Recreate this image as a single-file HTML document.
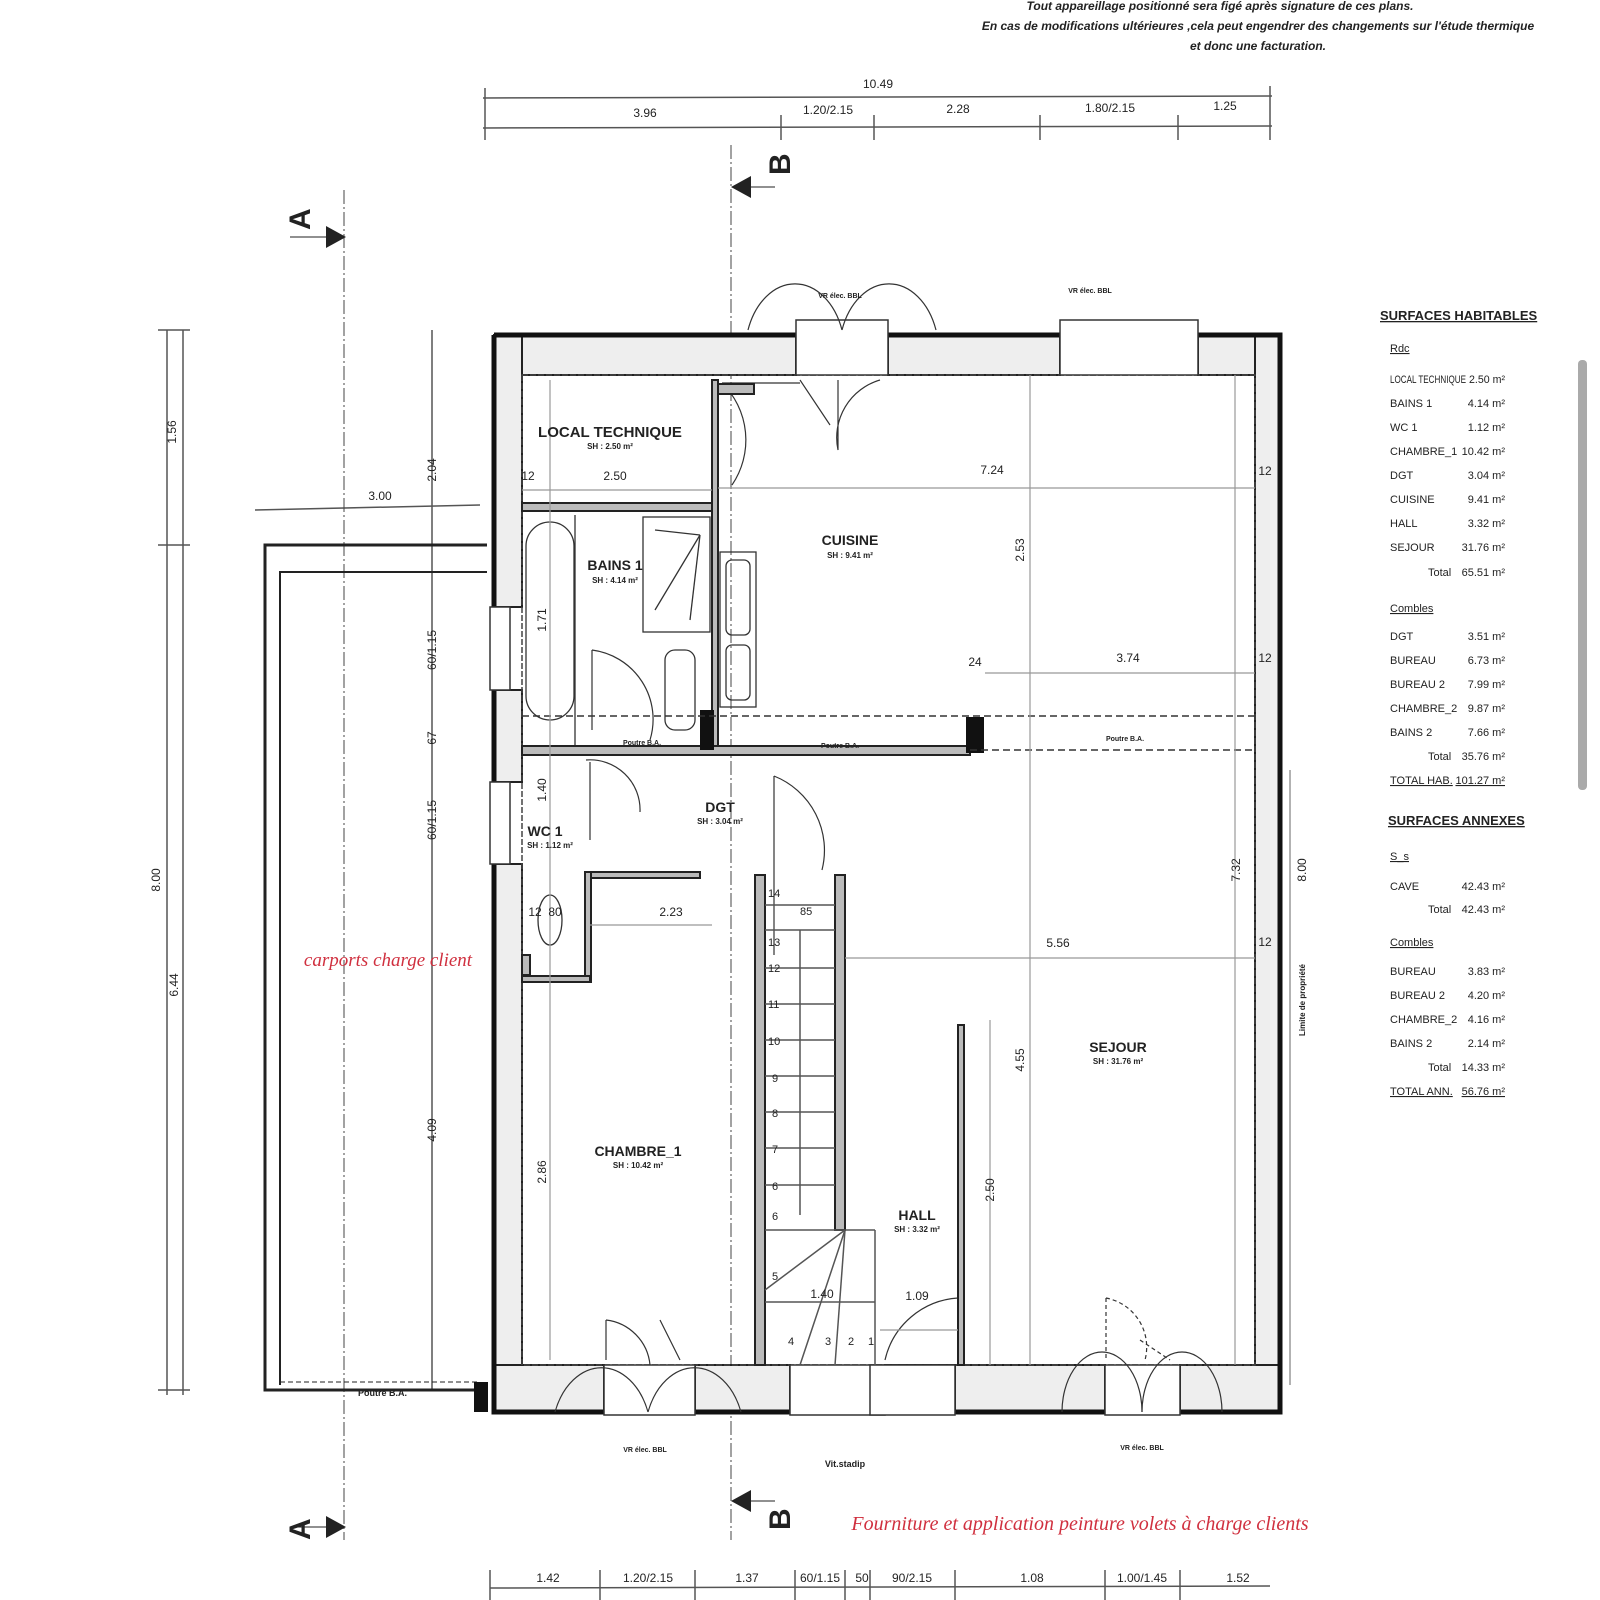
<!DOCTYPE html>
<html><head><meta charset="utf-8"><style>
html,body{margin:0;padding:0;background:#fff}
svg{display:block}
text{font-family:"Liberation Sans",sans-serif;fill:#222}
.d{font-size:12px}
.b{font-weight:bold}
</style></head><body>
<svg width="1600" height="1600" viewBox="0 0 1600 1600" xmlns="http://www.w3.org/2000/svg">
<rect width="1600" height="1600" fill="#fff"/>
<g font-style="italic" font-weight="bold" font-size="12" text-anchor="middle">
<text x="1220" y="10">Tout appareillage positionné sera figé après signature de ces plans.</text>
<text x="1258" y="30">En cas de modifications ultérieures ,cela peut engendrer des changements sur l'étude thermique</text>
<text x="1258" y="50">et donc une facturation.</text>
</g>
<g stroke="#555" stroke-width="1.5" fill="none">
<line x1="483" y1="98" x2="1272" y2="96"/>
<line x1="483" y1="128" x2="1272" y2="126"/>
<line x1="485" y1="88" x2="485" y2="140"/><line x1="1270" y1="86" x2="1270" y2="140"/>
<line x1="781" y1="115" x2="781" y2="140"/><line x1="874" y1="115" x2="874" y2="140"/>
<line x1="1040" y1="115" x2="1040" y2="140"/><line x1="1178" y1="115" x2="1178" y2="140"/>
</g>
<g class="d" text-anchor="middle">
<text x="878" y="88">10.49</text><text x="645" y="117">3.96</text><text x="828" y="114">1.20/2.15</text>
<text x="958" y="113">2.28</text><text x="1110" y="112">1.80/2.15</text><text x="1225" y="110">1.25</text>
</g>
<g stroke="#555" stroke-width="1.5"><line x1="490" y1="1588" x2="1270" y2="1586"/>
<line x1="490" y1="1570" x2="490" y2="1600"/><line x1="600" y1="1570" x2="600" y2="1600"/><line x1="695" y1="1570" x2="695" y2="1600"/><line x1="795" y1="1570" x2="795" y2="1600"/><line x1="845" y1="1570" x2="845" y2="1600"/><line x1="870" y1="1570" x2="870" y2="1600"/><line x1="955" y1="1570" x2="955" y2="1600"/><line x1="1105" y1="1570" x2="1105" y2="1600"/><line x1="1180" y1="1570" x2="1180" y2="1600"/></g>
<g class="d" text-anchor="middle">
<text x="548" y="1582">1.42</text><text x="648" y="1582">1.20/2.15</text><text x="747" y="1582">1.37</text><text x="820" y="1582">60/1.15</text><text x="862" y="1582">50</text><text x="912" y="1582">90/2.15</text><text x="1032" y="1582">1.08</text><text x="1142" y="1582">1.00/1.45</text><text x="1238" y="1582">1.52</text>
</g>
<g stroke="#555" stroke-width="1.5">
<line x1="167" y1="330" x2="167" y2="1395"/><line x1="183" y1="330" x2="183" y2="1395"/>
<line x1="158" y1="330" x2="190" y2="330"/><line x1="158" y1="545" x2="190" y2="545"/><line x1="158" y1="1390" x2="190" y2="1390"/>
<line x1="432" y1="330" x2="432" y2="1390"/>
<line x1="255" y1="510" x2="480" y2="505"/>
</g>
<g class="d" text-anchor="middle">
<text transform="translate(176,432) rotate(-90)">1.56</text>
<text transform="translate(160,880) rotate(-90)">8.00</text>
<text transform="translate(178,985) rotate(-90)">6.44</text>
<text transform="translate(436,470) rotate(-90)">2.04</text>
<text transform="translate(436,650) rotate(-90)">60/1.15</text>
<text transform="translate(436,738) rotate(-90)">67</text>
<text transform="translate(436,820) rotate(-90)">60/1.15</text>
<text transform="translate(436,1130) rotate(-90)">4.09</text>
<text x="380" y="500">3.00</text>
</g>
<g stroke="#444" stroke-width="1" stroke-dasharray="14,3,2,3">
<line x1="344" y1="190" x2="344" y2="1540"/><line x1="731" y1="145" x2="731" y2="1540"/>
</g>
<g font-size="30" font-weight="bold">
<text transform="translate(310,230) rotate(-90)">A</text>
<text transform="translate(310,1540) rotate(-90)">A</text>
<text transform="translate(790,175) rotate(-90)">B</text>
<text transform="translate(790,1530) rotate(-90)">B</text>
</g>
<g fill="#222">
<polygon points="346,237 326,226 326,248"/><line x1="290" y1="237" x2="326" y2="237" stroke="#222"/>
<polygon points="346,1527 326,1516 326,1538"/><line x1="290" y1="1527" x2="326" y2="1527" stroke="#222"/>
<polygon points="731,187 751,176 751,198"/><line x1="751" y1="187" x2="775" y2="187" stroke="#222"/>
<polygon points="731,1501 751,1490 751,1512"/><line x1="751" y1="1501" x2="775" y2="1501" stroke="#222"/>
</g>
<g fill="none" stroke="#222">
<path d="M487 545 H265 V1390 H487" stroke-width="3"/>
<path d="M487 572 H280 V1385" stroke-width="2"/>
<line x1="280" y1="1382" x2="480" y2="1382" stroke-dasharray="5,3"/>
</g>
<rect x="474" y="1382" width="14" height="30" fill="#111"/>
<text x="358" y="1396" font-size="9" class="b">Poutre B.A.</text>
<text x="388" y="966" font-size="19" font-style="italic" text-anchor="middle" style="fill:#d0303f;font-family:'Liberation Serif',serif">carports charge client</text>
<g fill="#eee" stroke="#222" stroke-width="2">
<rect x="494" y="335" width="302" height="40"/>
<rect x="888" y="335" width="172" height="40"/>
<rect x="1198" y="335" width="82" height="40"/>
<rect x="1255" y="335" width="25" height="1050"/>
<rect x="494" y="335" width="28" height="272"/>
<rect x="494" y="690" width="28" height="92"/>
<rect x="494" y="864" width="28" height="548"/>
<rect x="494" y="1365" width="110" height="47"/>
<rect x="695" y="1365" width="95" height="47"/>
<rect x="885" y="1365" width="70" height="47"/>
<rect x="955" y="1365" width="150" height="47"/>
<rect x="1180" y="1365" width="100" height="47"/>
</g>
<g stroke="#111" stroke-width="5" fill="none">
<path d="M494 335 H796 M888 335 H1060 M1198 335 H1280 V1412 H1180 M1105 1412 H955 M885 1412 H870 M790 1412 H695 M604 1412 H494 V864 M494 782 V690 M494 607 V335"/>
</g>
<g stroke="#444" stroke-width="1.5" fill="none">
<path d="M522 375 H1255 V1365 H522 Z" stroke-dasharray="6,2"/>
</g>
<g fill="#fff" stroke="#333" stroke-width="1.5">
<rect x="796" y="320" width="92" height="55"/><rect x="1060" y="320" width="138" height="55"/>
<rect x="490" y="607" width="20" height="83"/><rect x="490" y="782" width="20" height="82"/>
<rect x="604" y="1365" width="91" height="50"/><rect x="790" y="1365" width="95" height="50"/>
<rect x="870" y="1365" width="85" height="50"/><rect x="1105" y="1365" width="75" height="50"/>
</g>
<g fill="none" stroke="#333" stroke-width="1.2">
<path d="M842 330 A50 70 0 0 0 748 330"/><path d="M842 330 A50 70 0 0 1 936 330"/>
<path d="M648 1412 A50 70 0 0 0 555 1412"/><path d="M648 1412 A50 70 0 0 1 741 1412"/>
<path d="M1142 1412 A40 60 0 0 0 1062 1412"/><path d="M1142 1412 A40 60 0 0 1 1222 1412"/>
<path d="M722 383 A80 80 0 0 1 732 485"/><line x1="722" y1="383" x2="800" y2="383"/>
<path d="M800 380 L830 425 M838 380 V450 A60 60 0 0 1 880 380"/>
<path d="M606 1320 V1360 M606 1320 A50 50 0 0 1 650 1365 M660 1320 L680 1360"/>
<path d="M1106 1298 V1360 M1106 1298 A50 50 0 0 1 1145 1360 M1140 1340 L1170 1360" stroke-dasharray="4,3"/>
<path d="M958 1298 A80 80 0 0 0 885 1360 M958 1295 V1360"/>
<path d="M774 776 V955 M774 776 A80 80 0 0 1 822 870" />
<path d="M586 760 A50 50 0 0 1 640 812 M590 762 V840"/>
<path d="M592 650 V730 M592 650 A70 70 0 0 1 650 740"/>
</g>
<g fill="#bbb" stroke="#222" stroke-width="2">
<rect x="522" y="503" width="190" height="8"/>
<rect x="712" y="380" width="6" height="372"/>
<rect x="522" y="746" width="448" height="9"/>
<rect x="585" y="872" width="115" height="6"/>
<rect x="585" y="872" width="6" height="110"/>
<rect x="522" y="976" width="68" height="6"/>
<rect x="522" y="955" width="8" height="20"/>
<rect x="755" y="875" width="10" height="490"/>
<rect x="835" y="875" width="10" height="355"/>
<rect x="958" y="1025" width="6" height="340"/>
<rect x="718" y="384" width="36" height="10"/>
</g>
<rect x="966" y="717" width="18" height="36" fill="#111"/>
<rect x="700" y="710" width="14" height="40" fill="#111"/>
<g stroke="#333" stroke-width="1.5" stroke-dasharray="7,4">
<line x1="522" y1="716" x2="1255" y2="716"/><line x1="970" y1="750" x2="1255" y2="750"/>
</g>
<g fill="none" stroke="#333" stroke-width="1.3">
<rect x="526" y="522" width="48" height="198" rx="24"/>
<line x1="575" y1="515" x2="575" y2="745"/>
<rect x="643" y="517" width="67" height="115"/>
<line x1="655" y1="530" x2="700" y2="535"/><line x1="655" y1="610" x2="700" y2="535"/><line x1="690" y1="620" x2="700" y2="535"/>
<rect x="665" y="650" width="30" height="80" rx="10"/>
<rect x="720" y="552" width="36" height="155"/>
<rect x="726" y="560" width="24" height="75" rx="6"/><rect x="726" y="645" width="24" height="55" rx="6"/>
<ellipse cx="550" cy="920" rx="12" ry="25"/>
</g>
<g stroke="#555" stroke-width="1.5">
<line x1="765" y1="905" x2="835" y2="905"/><line x1="765" y1="930" x2="835" y2="930"/>
<line x1="765" y1="968" x2="835" y2="968"/><line x1="765" y1="1004" x2="835" y2="1004"/>
<line x1="765" y1="1040" x2="835" y2="1040"/><line x1="765" y1="1076" x2="835" y2="1076"/>
<line x1="765" y1="1112" x2="835" y2="1112"/><line x1="765" y1="1148" x2="835" y2="1148"/>
<line x1="765" y1="1185" x2="835" y2="1185"/><line x1="765" y1="1230" x2="875" y2="1230"/>
<line x1="765" y1="1302" x2="875" y2="1302"/>
<line x1="845" y1="1230" x2="765" y2="1290"/><line x1="845" y1="1230" x2="800" y2="1365"/>
<line x1="845" y1="1230" x2="835" y2="1365"/><line x1="800" y1="930" x2="800" y2="1215"/>
<line x1="875" y1="1230" x2="875" y2="1365"/>
</g>
<g font-size="11" fill="#333">
<text x="768" y="897">14</text><text x="768" y="946">13</text><text x="768" y="972">12</text><text x="768" y="1008">11</text>
<text x="768" y="1045">10</text><text x="772" y="1082">9</text><text x="772" y="1117">8</text><text x="772" y="1153">7</text>
<text x="772" y="1190">6</text><text x="772" y="1220">6</text><text x="772" y="1280">5</text>
<text x="788" y="1345">4</text><text x="825" y="1345">3</text><text x="848" y="1345">2</text><text x="868" y="1345">1</text>
<text x="800" y="915">85</text>
</g>
<g stroke="#999" stroke-width="1.2">
<line x1="522" y1="490" x2="712" y2="490"/><line x1="718" y1="488" x2="1255" y2="488"/>
<line x1="985" y1="673" x2="1255" y2="673"/><line x1="590" y1="925" x2="712" y2="925"/>
<line x1="845" y1="958" x2="1255" y2="958"/><line x1="1030" y1="375" x2="1030" y2="1365"/>
<line x1="1235" y1="375" x2="1235" y2="1365"/><line x1="550" y1="380" x2="550" y2="1360"/>
<line x1="990" y1="1020" x2="990" y2="1365"/><line x1="880" y1="1330" x2="958" y2="1330"/>
</g>
<g class="d" text-anchor="middle" fill="#333">
<text x="615" y="480">2.50</text><text x="992" y="474">7.24</text><text x="1128" y="662">3.74</text><text x="671" y="916">2.23</text>
<text x="1058" y="947">5.56</text><text x="917" y="1300">1.09</text><text x="822" y="1298">1.40</text>
<text x="528" y="480">12</text><text x="1265" y="475">12</text><text x="1265" y="662">12</text><text x="1265" y="946">12</text>
<text x="975" y="666">24</text><text x="535" y="916">12</text><text x="555" y="916">80</text>
<text transform="translate(1024,550) rotate(-90)">2.53</text>
<text transform="translate(1240,870) rotate(-90)">7.32</text>
<text transform="translate(1024,1060) rotate(-90)">4.55</text>
<text transform="translate(994,1190) rotate(-90)">2.50</text>
<text transform="translate(546,1172) rotate(-90)">2.86</text>
<text transform="translate(546,620) rotate(-90)">1.71</text>
<text transform="translate(546,790) rotate(-90)">1.40</text>
<text transform="translate(1306,870) rotate(-90)">8.00</text>
</g>
<text transform="translate(1305,1000) rotate(-90)" font-size="8" class="b" text-anchor="middle">Limite de propriété</text>
<line x1="1290" y1="770" x2="1290" y2="1385" stroke="#666"/>
<g font-weight="bold" text-anchor="middle">
<text x="610" y="437" font-size="15">LOCAL TECHNIQUE</text><text x="610" y="449" font-size="8">SH : 2.50 m²</text>
<text x="615" y="570" font-size="14">BAINS 1</text><text x="615" y="583" font-size="8">SH : 4.14 m²</text>
<text x="850" y="545" font-size="14">CUISINE</text><text x="850" y="558" font-size="8">SH : 9.41 m²</text>
<text x="720" y="812" font-size="14">DGT</text><text x="720" y="824" font-size="8">SH : 3.04 m²</text>
<text x="545" y="836" font-size="14">WC 1</text><text x="550" y="848" font-size="8">SH : 1.12 m²</text>
<text x="638" y="1156" font-size="14">CHAMBRE_1</text><text x="638" y="1168" font-size="8">SH : 10.42 m²</text>
<text x="917" y="1220" font-size="14">HALL</text><text x="917" y="1232" font-size="8">SH : 3.32 m²</text>
<text x="1118" y="1052" font-size="14">SEJOUR</text><text x="1118" y="1064" font-size="8">SH : 31.76 m²</text>
</g>
<g font-size="7" font-weight="bold" text-anchor="middle">
<text x="840" y="298">VR élec. BBL</text><text x="1090" y="293">VR élec. BBL</text>
<text x="645" y="1452">VR élec. BBL</text><text x="1142" y="1450">VR élec. BBL</text>
<text x="845" y="1467" font-size="9">Vit.stadip</text>
<text x="642" y="745">Poutre B.A.</text><text x="840" y="748">Poutre B.A.</text><text x="1125" y="741">Poutre B.A.</text>
</g>
<text x="1080" y="1530" font-size="20" font-style="italic" text-anchor="middle" style="fill:#d0303f;font-family:'Liberation Serif',serif">Fourniture et application peinture volets à charge clients</text>
<g font-size="11" fill="#333">
<text x="1380" y="320" font-size="13" text-decoration="underline" class="b">SURFACES HABITABLES</text>
<text x="1390" y="352" text-decoration="underline">Rdc</text>
<text x="1390" y="383" textLength="76" lengthAdjust="spacingAndGlyphs">LOCAL TECHNIQUE</text><text x="1505" y="383" text-anchor="end" textLength="36" lengthAdjust="spacingAndGlyphs">2.50 m²</text>
<text x="1390" y="407">BAINS 1</text><text x="1505" y="407" text-anchor="end">4.14 m²</text>
<text x="1390" y="431">WC 1</text><text x="1505" y="431" text-anchor="end">1.12 m²</text>
<text x="1390" y="455">CHAMBRE_1</text><text x="1505" y="455" text-anchor="end">10.42 m²</text>
<text x="1390" y="479">DGT</text><text x="1505" y="479" text-anchor="end">3.04 m²</text>
<text x="1390" y="503">CUISINE</text><text x="1505" y="503" text-anchor="end">9.41 m²</text>
<text x="1390" y="527">HALL</text><text x="1505" y="527" text-anchor="end">3.32 m²</text>
<text x="1390" y="551">SEJOUR</text><text x="1505" y="551" text-anchor="end">31.76 m²</text>
<text x="1428" y="576">Total</text><text x="1505" y="576" text-anchor="end">65.51 m²</text>
<text x="1390" y="612" text-decoration="underline">Combles</text>
<text x="1390" y="640">DGT</text><text x="1505" y="640" text-anchor="end">3.51 m²</text>
<text x="1390" y="664">BUREAU</text><text x="1505" y="664" text-anchor="end">6.73 m²</text>
<text x="1390" y="688">BUREAU 2</text><text x="1505" y="688" text-anchor="end">7.99 m²</text>
<text x="1390" y="712">CHAMBRE_2</text><text x="1505" y="712" text-anchor="end">9.87 m²</text>
<text x="1390" y="736">BAINS 2</text><text x="1505" y="736" text-anchor="end">7.66 m²</text>
<text x="1428" y="760">Total</text><text x="1505" y="760" text-anchor="end">35.76 m²</text>
<text x="1390" y="784" text-decoration="underline">TOTAL HAB.</text><text x="1505" y="784" text-anchor="end" text-decoration="underline">101.27 m²</text>
<text x="1388" y="825" font-size="13" text-decoration="underline" class="b">SURFACES ANNEXES</text>
<text x="1390" y="860" text-decoration="underline">S_s</text>
<text x="1390" y="890">CAVE</text><text x="1505" y="890" text-anchor="end">42.43 m²</text>
<text x="1428" y="913">Total</text><text x="1505" y="913" text-anchor="end">42.43 m²</text>
<text x="1390" y="946" text-decoration="underline">Combles</text>
<text x="1390" y="975">BUREAU</text><text x="1505" y="975" text-anchor="end">3.83 m²</text>
<text x="1390" y="999">BUREAU 2</text><text x="1505" y="999" text-anchor="end">4.20 m²</text>
<text x="1390" y="1023">CHAMBRE_2</text><text x="1505" y="1023" text-anchor="end">4.16 m²</text>
<text x="1390" y="1047">BAINS 2</text><text x="1505" y="1047" text-anchor="end">2.14 m²</text>
<text x="1428" y="1071">Total</text><text x="1505" y="1071" text-anchor="end">14.33 m²</text>
<text x="1390" y="1095" text-decoration="underline">TOTAL ANN.</text><text x="1505" y="1095" text-anchor="end" text-decoration="underline">56.76 m²</text>
</g>
<rect x="1578" y="360" width="9" height="430" rx="4" fill="#aaa"/>
</svg>
</body></html>
